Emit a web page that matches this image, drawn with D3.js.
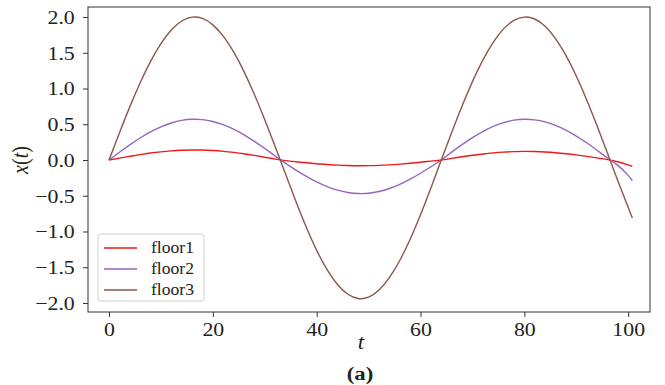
<!DOCTYPE html>
<html>
<head>
<meta charset="utf-8">
<script src="https://cdn.jsdelivr.net/npm/d3@7/dist/d3.min.js"></script>
<style>
  html, body { margin: 0; padding: 0; background: #fff; }
  svg { display: block; }
  text { font-family: "Liberation Serif", "Times New Roman", serif; fill: #222; }
</style>
</head>
<body>
<svg id="chart" width="665" height="385"></svg>
<script>
// Time samples (t) and displacement x(t) for each floor
const t = [0, 2, 4, 6, 8, 10, 12, 14, 16, 18, 20, 22, 24, 26, 28, 30, 32, 34, 36, 38, 40,
  42, 44, 46, 48, 50, 52, 54, 56, 58, 60, 62, 64, 66, 68, 70, 72, 74, 76, 78, 80,
  82, 84, 86, 88, 90, 92, 94, 96, 98, 100, 100.8];

const floor1 = [0, 0.027, 0.052, 0.076, 0.097, 0.114, 0.127, 0.136, 0.140, 0.139, 0.132,
  0.121, 0.106, 0.087, 0.064, 0.039, 0.013, -0.008, -0.024, -0.039, -0.052,
  -0.063, -0.072, -0.077, -0.080, -0.079, -0.075, -0.068, -0.058, -0.046, -0.032,
  -0.016, 0.000, 0.023, 0.045, 0.066, 0.084, 0.099, 0.110, 0.117, 0.120,
  0.118, 0.112, 0.102, 0.088, 0.071, 0.051, 0.029, 0.006, -0.025, -0.068, -0.090];

const floor2 = [0, 0.108, 0.212, 0.308, 0.393, 0.464, 0.518, 0.554, 0.569, 0.564, 0.539,
  0.494, 0.431, 0.352, 0.261, 0.161, 0.054, -0.048, -0.141, -0.228, -0.306,
  -0.372, -0.422, -0.455, -0.469, -0.465, -0.441, -0.399, -0.341, -0.268, -0.185,
  -0.095, 0.000, 0.110, 0.215, 0.312, 0.398, 0.469, 0.523, 0.557, 0.570,
  0.562, 0.533, 0.484, 0.417, 0.335, 0.241, 0.136, 0.028, -0.075, -0.215, -0.290];

const floor3 = [0, 0.379, 0.743, 1.081, 1.380, 1.629, 1.819, 1.944, 1.998, 1.980, 1.890,
  1.732, 1.511, 1.236, 0.916, 0.563, 0.190, -0.196, -0.581, -0.941, -1.264,
  -1.534, -1.742, -1.878, -1.937, -1.918, -1.819, -1.646, -1.406, -1.108, -0.765,
  -0.391, 0.000, 0.384, 0.754, 1.096, 1.397, 1.646, 1.834, 1.953, 1.999,
  1.972, 1.870, 1.699, 1.463, 1.176, 0.844, 0.478, 0.097, -0.289, -0.664, -0.810];

const seriesNames = ["floor1", "floor2", "floor3"];
const seriesColors = ["#f01818", "#9467bd", "#8c564b"];
const xTicks = [0, 20, 40, 60, 80, 100];
const yTicks = [-2.0, -1.5, -1.0, -0.5, 0.0, 0.5, 1.0, 1.5, 2.0];

const series = [floor1, floor2, floor3];

const svg = d3.select("#chart");
const plot = { left: 88, right: 650, top: 7, bottom: 312 };
const serif = '"Liberation Serif", "Times New Roman", serif';

const x = d3.scaleLinear().domain([-4.05, 104.2]).range([plot.left, plot.right]);
const y = d3.scaleLinear().domain([-2.126, 2.14]).range([plot.bottom, plot.top]);

const fmt = v => d3.format(".1f")(v).replace("-", "\u2212");

// axes
const xAxis = svg.append("g")
  .attr("transform", `translate(0,${plot.bottom})`)
  .call(d3.axisBottom(x).tickValues(xTicks).tickSize(5).tickPadding(2).tickFormat(d3.format("d")));
const yAxis = svg.append("g")
  .attr("transform", `translate(${plot.left},0)`)
  .call(d3.axisLeft(y).tickValues(yTicks).tickSize(5).tickPadding(4).tickFormat(fmt));

[xAxis, yAxis].forEach(g => {
  g.select(".domain").remove();
  g.attr("font-family", null).attr("font-size", null);
  g.selectAll(".tick line").attr("stroke", "#333").attr("stroke-width", 1);
  g.selectAll(".tick text")
    .style("font-family", serif)
    .style("font-size", "19px")
    .attr("fill", "#222");
});
xAxis.selectAll(".tick text").attr("transform", "scale(1.15,1)").attr("dy", "0.9em");
yAxis.selectAll(".tick text").attr("transform", "scale(1.15,1)").attr("x", -11.5).attr("dy", "0.34em");

// lines
const line = d3.line()
  .x((d, i) => x(t[i]))
  .y(d => y(d))
  .curve(d3.curveNatural);

series.forEach((s, k) => {
  svg.append("path")
    .datum(s)
    .attr("fill", "none")
    .attr("stroke", seriesColors[k])
    .attr("stroke-width", 1.4)
    .attr("d", line);
});

// frame
svg.append("rect")
  .attr("x", plot.left).attr("y", plot.top)
  .attr("width", plot.right - plot.left).attr("height", plot.bottom - plot.top)
  .attr("fill", "none").attr("stroke", "#333").attr("stroke-width", 1);

// legend
const leg = svg.append("g").attr("transform", "translate(98,234)");
leg.append("rect")
  .attr("width", 106).attr("height", 67).attr("rx", 3)
  .attr("fill", "#fff").attr("fill-opacity", 0.8)
  .attr("stroke", "#d0d0d0").attr("stroke-width", 1);
seriesNames.forEach((name, k) => {
  const yy = 14 + k * 21;
  leg.append("line")
    .attr("x1", 6).attr("x2", 39).attr("y1", yy).attr("y2", yy)
    .attr("stroke", seriesColors[k]).attr("stroke-width", 1.4);
  leg.append("text")
    .attr("transform", `translate(53,${yy + 5}) scale(1.1,1)`)
    .style("font-family", serif)
    .style("font-size", "16px")
    .text(name);
});

// axis labels
const yl = svg.append("text")
  .attr("transform", "translate(28,160) rotate(-90) scale(1,1.15)")
  .attr("text-anchor", "middle")
  .style("font-family", serif)
  .style("font-size", "20px");
yl.append("tspan").style("font-style", "italic").text("x");
yl.append("tspan").text("(");
yl.append("tspan").style("font-style", "italic").text("t");
yl.append("tspan").text(")");

svg.append("text")
  .attr("transform", "translate(361,349) scale(1.15,1)")
  .attr("text-anchor", "middle")
  .style("font-family", serif)
  .style("font-size", "20px").style("font-style", "italic")
  .text("t");

svg.append("text")
  .attr("transform", "translate(360,380) scale(1.2,1)")
  .attr("text-anchor", "middle")
  .style("font-family", serif)
  .style("font-size", "19px").style("font-weight", "bold")
  .text("(a)");
</script>
</body>
</html>
